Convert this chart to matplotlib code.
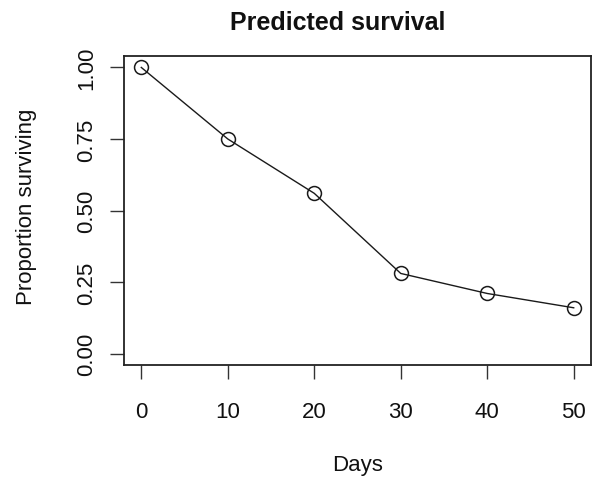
import matplotlib
matplotlib.use("Agg")
import matplotlib.pyplot as plt

days = [0, 10, 20, 30, 40, 50]
surviving = [1.00, 0.75, 0.56, 0.28, 0.21, 0.16]
x_ticks = [0, 10, 20, 30, 40, 50]
y_ticks = [0.00, 0.25, 0.50, 0.75, 1.00]
y_tick_labels = ["0.00", "0.25", "0.50", "0.75", "1.00"]

plt.rcParams["font.family"] = ["Liberation Sans", "DejaVu Sans"]

W, H = 592, 481
fig = plt.figure(figsize=(W / 100, H / 100), dpi=100)
ax = fig.add_axes([124 / W, 1 - 366 / H, (591 - 124) / W, (366 - 57) / H])

ax.plot(days, surviving, color="#1a1a1a", lw=1.0, marker="o", markersize=10,
        markerfacecolor="none", markeredgecolor="#1a1a1a", markeredgewidth=1.1)

# R-style 4% padding around the data range
ax.set_xlim(-2, 52)
ax.set_ylim(-0.04, 1.04)

ax.set_xticks(x_ticks)
ax.set_xticklabels([str(t) for t in x_ticks])
ax.set_yticks(y_ticks)
ax.set_yticklabels(y_tick_labels)

for s in ax.spines.values():
    s.set_linewidth(1.3)
    s.set_color("#222222")

ax.tick_params(axis="x", length=10, width=1.0, color="#333333", pad=16,
               labelsize=16, labelcolor="#111111")
ax.tick_params(axis="y", length=10, width=1.0, color="#333333", pad=9,
               labelsize=16, labelcolor="#111111")
for lab in ax.get_yticklabels():
    lab.set_rotation(90)
    lab.set_va("center")
    lab.set_ha("right")

fig.text(338 / W, 1 - 23 / H, "Predicted survival", ha="center", va="center",
         fontsize=18, fontweight="bold", color="#111111")
fig.text(357.5 / W, 1 - 466 / H, "Days", ha="center", va="center",
         fontsize=16, color="#111111")
fig.text(27 / W, 1 - 207 / H, "Proportion surviving", ha="center", va="center",
         rotation=90, fontsize=16, color="#111111")

fig.savefig("out.png", dpi=100, facecolor="white")
